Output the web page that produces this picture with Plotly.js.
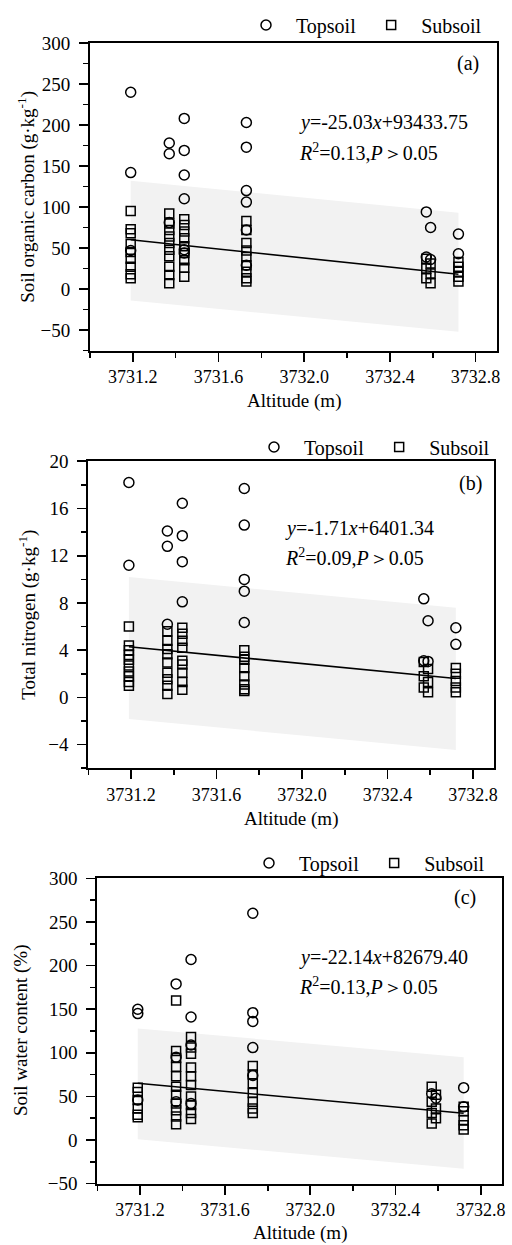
<!DOCTYPE html>
<html>
<head>
<meta charset="utf-8">
<script src="https://cdn.plot.ly/plotly-3.0.1.min.js"></script>
<style>html,body{margin:0;padding:0;background:#fff}#chart{width:512px;height:1245px}</style>
</head>
<body>
<div id="chart"></div>
<script>
// ---- Altitude groups (m) ----
const altitudes = [3731.19, 3731.37, 3731.44, 3731.73, 3732.57, 3732.72];

// ---- (a) Soil organic carbon (g·kg-1) ----
const socTopX = [3731.19,3731.19,3731.19, 3731.37,3731.37,3731.37, 3731.44,3731.44,3731.44,3731.44,3731.44,3731.44, 3731.73,3731.73,3731.73,3731.73,3731.73,3731.73, 3732.57,3732.59,3732.57,3732.59, 3732.72,3732.72];
const socTopY = [240,142,47, 178,165,81, 208,169,139,110,48,44, 203,173,120,106,72,29, 94,75,39,36, 67,43];
const socSubX = [3731.19,3731.19,3731.19,3731.19,3731.19,3731.19,3731.19,3731.19,3731.19, 3731.37,3731.37,3731.37,3731.37,3731.37,3731.37,3731.37,3731.37,3731.37,3731.37, 3731.44,3731.44,3731.44,3731.44,3731.44,3731.44,3731.44,3731.44,3731.44, 3731.73,3731.73,3731.73,3731.73,3731.73,3731.73,3731.73,3731.73,3731.73, 3732.57,3732.59,3732.57,3732.59,3732.57,3732.59, 3732.72,3732.72,3732.72,3732.72,3732.72];
const socSubY = [95,73,68,55,45,37,27,18,13, 92,80,72,64,56,48,40,27,17,7, 85,78,70,62,52,44,35,26,15, 83,72,56,47,39,29,21,13,9, 37,31,25,19,13,7, 33,27,21,15,9];
const socFitY = [60, 18];
const socBandUpper = [132, 93];
const socBandLower = [-14, -52];

// ---- (b) Total nitrogen (g·kg-1) ----
const tnTopX = [3731.19,3731.19, 3731.37,3731.37,3731.37, 3731.44,3731.44,3731.44,3731.44, 3731.73,3731.73,3731.73,3731.73,3731.73, 3732.57,3732.59,3732.57,3732.59, 3732.72,3732.72];
const tnTopY = [18.2,11.2, 14.1,12.8,6.2, 16.45,13.7,11.5,8.1, 17.7,14.6,10.0,9.0,6.35, 8.35,6.5,3.1,3.05, 5.9,4.5];
const tnSubX = [3731.19,3731.19,3731.19,3731.19,3731.19,3731.19,3731.19,3731.19,3731.19,3731.19, 3731.37,3731.37,3731.37,3731.37,3731.37,3731.37,3731.37,3731.37,3731.37, 3731.44,3731.44,3731.44,3731.44,3731.44,3731.44,3731.44,3731.44,3731.44, 3731.73,3731.73,3731.73,3731.73,3731.73,3731.73,3731.73,3731.73, 3732.57,3732.59,3732.57,3732.59,3732.57,3732.59, 3732.72,3732.72,3732.72,3732.72,3732.72];
const tnSubY = [6.0,4.4,4.0,3.6,3.2,2.7,2.2,1.8,1.3,1.0, 5.6,4.8,4.1,3.65,2.95,2.1,1.55,1.0,0.3, 5.9,5.4,4.8,4.2,3.1,2.8,2.1,1.3,0.65, 4.0,3.45,3.2,2.5,1.8,1.1,0.7,0.55, 3.0,2.4,1.8,1.3,0.85,0.45, 2.5,2.0,1.4,0.85,0.45];
const tnFitY = [4.3, 1.6];
const tnBandUpper = [10.2, 7.6];
const tnBandLower = [-1.83, -4.45];

// ---- (c) Soil water content (%) ----
const swcTopX = [3731.19,3731.19,3731.19, 3731.37,3731.37,3731.37, 3731.44,3731.44,3731.44,3731.44, 3731.73,3731.73,3731.73,3731.73,3731.73, 3732.57,3732.59, 3732.72,3732.72];
const swcTopY = [150,145,46, 179,95,44, 207,141,109,42, 260,146,136,106,74, 53,48, 60,38];
const swcSubX = [3731.19,3731.19,3731.19,3731.19,3731.19,3731.19, 3731.37,3731.37,3731.37,3731.37,3731.37,3731.37,3731.37,3731.37,3731.37,3731.37,3731.37, 3731.44,3731.44,3731.44,3731.44,3731.44,3731.44,3731.44,3731.44,3731.44,3731.44, 3731.73,3731.73,3731.73,3731.73,3731.73,3731.73,3731.73, 3732.57,3732.59,3732.57,3732.59,3732.57,3732.59,3732.57, 3732.72,3732.72,3732.72,3732.72,3732.72];
const swcSubY = [60,55,46,36,29,26, 160,102,94,84,73,61,52,42,34,27,18, 118,106,99,83,73,63,50,40,31,24, 85,75,65,54,44,36,31, 61,52,44,36,31,25,19, 38,33,23,17,12];
const swcFitY = [65, 30.6];
const swcBandUpper = [128, 95];
const swcBandLower = [1, -33];

// ---- Text ----
const xTitle = 'Altitude (m)';
const yTitles = ['Soil organic carbon (g·kg<sup>-1</sup>)', 'Total nitrogen (g·kg<sup>-1</sup>)', 'Soil water content (%)'];
const panelLabels = ['(a)', '(b)', '(c)'];
const equations = ['<i>y</i>=-25.03<i>x</i>+93433.75', '<i>y</i>=-1.71<i>x</i>+6401.34', '<i>y</i>=-22.14<i>x</i>+82679.40'];
const stats = ['<i>R</i><sup>2</sup>=0.13,<i>P</i>＞0.05', '<i>R</i><sup>2</sup>=0.09,<i>P</i>＞0.05', '<i>R</i><sup>2</sup>=0.13,<i>P</i>＞0.05'];
const seriesNames = ['Topsoil', 'Subsoil'];
const yRanges = [[-75, 300], [-6, 20], [-50, 300]];
const yDticks = [50, 4, 50];

// ---- layout helpers (pixel -> paper) ----
const W = 512, H = 1245;
const px = v => v / W;
const py = v => 1 - v / H;
const FONT = 'Liberation Serif, Times New Roman, serif';

const panels = [
  {top: socTopX, topY: socTopY, sub: socSubX, subY: socSubY, fit: socFitY, up: socBandUpper, lo: socBandLower,
   box: [90, 497, 43, 350.5], legend: [236, 25], lab: [468, 63], eq: [297, 123], st: [297, 152], xt: 401, yt: 27},
  {top: tnTopX, topY: tnTopY, sub: tnSubX, subY: tnSubY, fit: tnFitY, up: tnBandUpper, lo: tnBandLower,
   box: [88.3, 494.3, 461.3, 768.3], legend: [244, 447], lab: [470, 483], eq: [283, 528], st: [283, 557], xt: 819, yt: 28},
  {top: swcTopX, topY: swcTopY, sub: swcSubX, subY: swcSubY, fit: swcFitY, up: swcBandUpper, lo: swcBandLower,
   box: [97.3, 502, 878.4, 1183.6], legend: [239, 863], lab: [465, 897], eq: [297, 958], st: [297, 986], xt: 1233, yt: 21}
];

const data = [];
const layout = {
  width: W, height: H, margin: {l: 0, r: 0, t: 0, b: 0},
  paper_bgcolor: '#fff', plot_bgcolor: 'rgba(0,0,0,0)',
  font: {family: FONT, color: '#000', size: 18},
  showlegend: true, annotations: []
};

const xFirst = altitudes[0], xLast = altitudes[altitudes.length - 1];

panels.forEach((p, i) => {
  const n = i === 0 ? '' : String(i + 1);
  const xa = 'x' + n, ya = 'y' + n;
  const lg = 'legend' + n;
  data.push({type: 'scatter', mode: 'lines', xaxis: xa, yaxis: ya, showlegend: false, hoverinfo: 'skip',
    x: [xFirst, xLast, xLast, xFirst, xFirst], y: [p.up[0], p.up[1], p.lo[1], p.lo[0], p.up[0]],
    fill: 'toself', fillcolor: 'rgb(242,242,242)', line: {width: 0, color: 'rgba(0,0,0,0)'}});
  data.push({type: 'scatter', mode: 'lines', xaxis: xa, yaxis: ya, showlegend: false,
    x: [xFirst, xLast], y: p.fit, line: {color: '#000', width: 1.6}});
  data.push({type: 'scatter', mode: 'markers', name: seriesNames[0], legend: lg, xaxis: xa, yaxis: ya,
    x: p.top, y: p.topY, marker: {symbol: 'circle-open', size: 10, color: '#000', line: {width: 1.5}}});
  data.push({type: 'scatter', mode: 'markers', name: seriesNames[1], legend: lg, xaxis: xa, yaxis: ya,
    x: p.sub, y: p.subY, marker: {symbol: 'square-open', size: 9, color: '#000', line: {width: 1.5}}});

  const [l, r, t, b] = p.box;
  layout['xaxis' + n] = {
    domain: [px(l), px(r)], anchor: ya, range: [3731.0, 3732.9],
    tick0: 3731.2, dtick: 0.4, tickformat: '.1f', ticks: 'outside', ticklen: 9, tickwidth: 1.6,
    showline: true, linewidth: 2, linecolor: '#000', mirror: true, showgrid: false, zeroline: false,
    minor: {dtick: 0.2, tick0: 3731.2, ticks: 'outside', ticklen: 5, tickwidth: 1.6, tickcolor: '#000'},
    tickfont: {size: 18, family: FONT}, tickcolor: '#000'
  };
  layout['yaxis' + n] = {
    domain: [py(b), py(t)], anchor: xa, range: yRanges[i],
    dtick: yDticks[i], ticks: 'outside', ticklen: 9, tickwidth: 1.6, tickcolor: '#000',
    showline: true, linewidth: 2, linecolor: '#000', mirror: true, showgrid: false, zeroline: false,
    minor: {dtick: yDticks[i] / 2, ticks: 'outside', ticklen: 5, tickwidth: 1.6, tickcolor: '#000'},
    tickfont: {size: 19, family: FONT}, ticklabelstandoff: 5
  };
  layout[lg] = {orientation: 'h', x: px(p.legend[0]), y: py(p.legend[1]), xanchor: 'left', yanchor: 'middle',
    bgcolor: 'rgba(0,0,0,0)', font: {size: 20, family: FONT}, itemwidth: 50, borderwidth: 0};

  const ann = layout.annotations;
  ann.push({xref: 'paper', yref: 'paper', x: px(p.lab[0]), y: py(p.lab[1]), text: panelLabels[i], showarrow: false,
    xanchor: 'center', yanchor: 'middle', font: {size: 20}});
  ann.push({xref: 'paper', yref: 'paper', x: px(p.eq[0]), y: py(p.eq[1]), text: equations[i], showarrow: false,
    xanchor: 'left', yanchor: 'middle', font: {size: 20}});
  ann.push({xref: 'paper', yref: 'paper', x: px(p.st[0]), y: py(p.st[1]), text: stats[i], showarrow: false,
    xanchor: 'left', yanchor: 'middle', font: {size: 20}});
  ann.push({xref: 'paper', yref: 'paper', x: px((l + r) / 2), y: py(p.xt), text: xTitle, showarrow: false,
    xanchor: 'center', yanchor: 'middle', font: {size: 19}});
  ann.push({xref: 'paper', yref: 'paper', x: px(p.yt), y: py((t + b) / 2), text: yTitles[i], showarrow: false,
    xanchor: 'center', yanchor: 'middle', textangle: -90, font: {size: 19}});
});

Plotly.newPlot('chart', data, layout, {staticPlot: true, displayModeBar: false});
</script>
</body>
</html>
